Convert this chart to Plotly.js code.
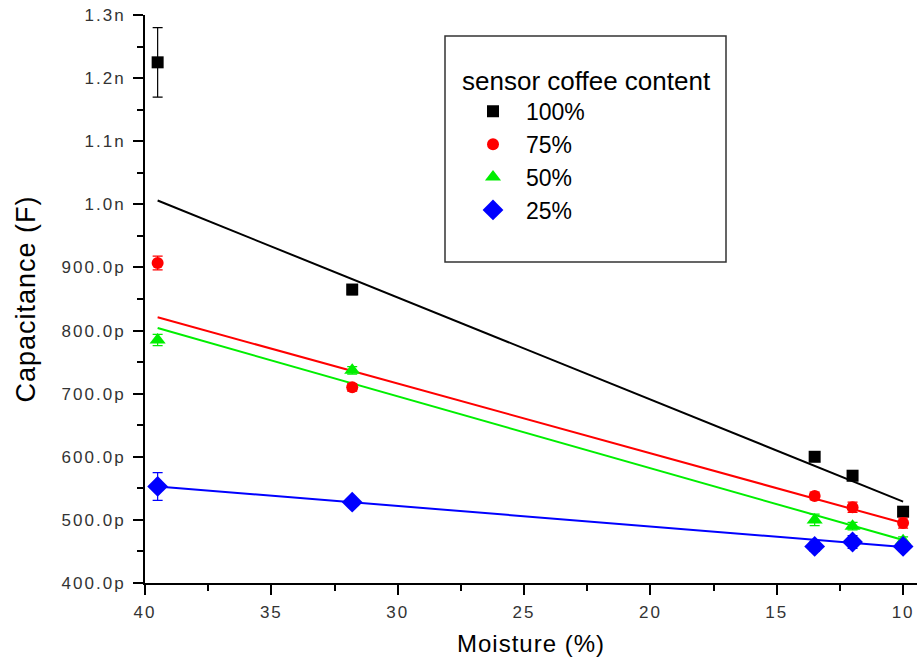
<!DOCTYPE html>
<html>
<head>
<meta charset="utf-8">
<script src="https://cdn.plot.ly/plotly-3.0.1.min.js"></script>
<style>
html,body{margin:0;padding:0;background:#fff;}
#chart{width:918px;height:666px;}
.xtick text, .ytick text { letter-spacing: 2px; }
.g-xtitle text, .g-ytitle text { letter-spacing: 1px; }
</style>
</head>
<body>
<div id="chart"></div>
<script>
// Moisture (%) values
const moisture = [39.5, 31.8, 13.5, 12, 10];
// Capacitance in pF for each sensor coffee content
const cap100 = [1225, 865, 600, 570, 513];
const err100 = [55, 8, 6, 8, 6];
const cap75 = [907, 710, 538, 520, 495];
const err75 = [11, 6, 6, 8, 8];
const cap50 = [785, 737, 500, 490, 467];
const err50 = [9, 6, 9, 6, 6];
const cap25 = [553, 528, 458, 465, 458];
const err25 = [22, 6, 8, 10, 6];
// Linear fit endpoints
const fitX = [39.5, 10];
const fit100 = [1006, 529];
const fit75 = [821, 495];
const fit50 = [804, 468];
const fit25 = [553, 457];
// Axis ticks
const yTickVals = [400, 500, 600, 700, 800, 900, 1000, 1100, 1200, 1300];
const yTickText = ['400.0p', '500.0p', '600.0p', '700.0p', '800.0p', '900.0p', '1.0n', '1.1n', '1.2n', '1.3n'];
const xTickVals = [40, 35, 30, 25, 20, 15, 10];
const seriesNames = ['100%', '75%', '50%', '25%'];

const colors = ['#000000', '#ff0000', '#00ee00', '#0000ff'];
const symbols = ['square', 'circle', 'triangle-up', 'diamond'];
const sizes = [12, 12, 14, 16];
const caps = [cap100, cap75, cap50, cap25];
const errs = [err100, err75, err50, err25];
const fits = [fit100, fit75, fit50, fit25];

const traces = [];
for (let i = 0; i < 4; i++) {
  traces.push({
    x: fitX, y: fits[i], mode: 'lines', type: 'scatter',
    line: {color: colors[i], width: 2}, showlegend: false, hoverinfo: 'skip'
  });
}
for (let i = 0; i < 4; i++) {
  traces.push({
    x: moisture, y: caps[i], mode: 'markers', type: 'scatter', name: seriesNames[i],
    marker: {color: colors[i], symbol: symbols[i], size: sizes[i]},
    error_y: {type: 'data', array: errs[i], visible: true, color: colors[i], thickness: 1.2, width: 5}
  });
}

const layout = {
  width: 918, height: 666,
  margin: {l: 145, r: 1, t: 15, b: 83},
  paper_bgcolor: '#ffffff', plot_bgcolor: '#ffffff',
  font: {family: 'Liberation Sans, Arial, sans-serif', color: '#000'},
  showlegend: true,
  xaxis: {
    range: [40, 9.45], autorange: false,
    tickmode: 'array', tickvals: xTickVals,
    ticks: 'outside', ticklen: 10, tickwidth: 2, tickcolor: '#000',
    minor: {tickmode: 'linear', tick0: 0, dtick: 2.5, ticks: 'outside', ticklen: 6, tickwidth: 2, tickcolor: '#000'},
    showline: true, linecolor: '#000', linewidth: 2,
    showgrid: false, zeroline: false,
    tickfont: {size: 17, color: '#333'},
    ticklabelstandoff: 3,
    title: {text: 'Moisture (%)', font: {size: 24, color: '#000'}, standoff: 14}
  },
  yaxis: {
    range: [400, 1300], autorange: false,
    tickmode: 'array', tickvals: yTickVals, ticktext: yTickText,
    ticks: 'outside', ticklen: 10, tickwidth: 2, tickcolor: '#000',
    minor: {tickmode: 'linear', tick0: 0, dtick: 50, ticks: 'outside', ticklen: 6, tickwidth: 2, tickcolor: '#000'},
    showline: true, linecolor: '#000', linewidth: 2,
    showgrid: false, zeroline: false,
    tickfont: {size: 17, color: '#333'},
    ticklabelstandoff: 4,
    title: {text: 'Capacitance (F)', font: {size: 27, color: '#000'}, standoff: 18}
  },
  shapes: [{
    type: 'rect', xref: 'paper', yref: 'paper',
    x0: (445 - 145) / 772, x1: (726 - 145) / 772,
    y0: (583 - 262) / 568, y1: (583 - 36) / 568,
    line: {color: '#333', width: 1.5}, fillcolor: 'rgba(0,0,0,0)'
  }],
  legend: {
    x: (460 - 145) / 772, y: (583 - 56) / 568, xanchor: 'left', yanchor: 'top',
    bgcolor: 'rgba(0,0,0,0)', borderwidth: 0,
    font: {size: 23, color: '#000'},
    title: {text: 'sensor coffee content', font: {size: 26, color: '#000'}, side: 'top'},
    tracegroupgap: 0, itemwidth: 56
  }
};

Plotly.newPlot('chart', traces, layout, {displayModeBar: false, staticPlot: true});
</script>
</body>
</html>
